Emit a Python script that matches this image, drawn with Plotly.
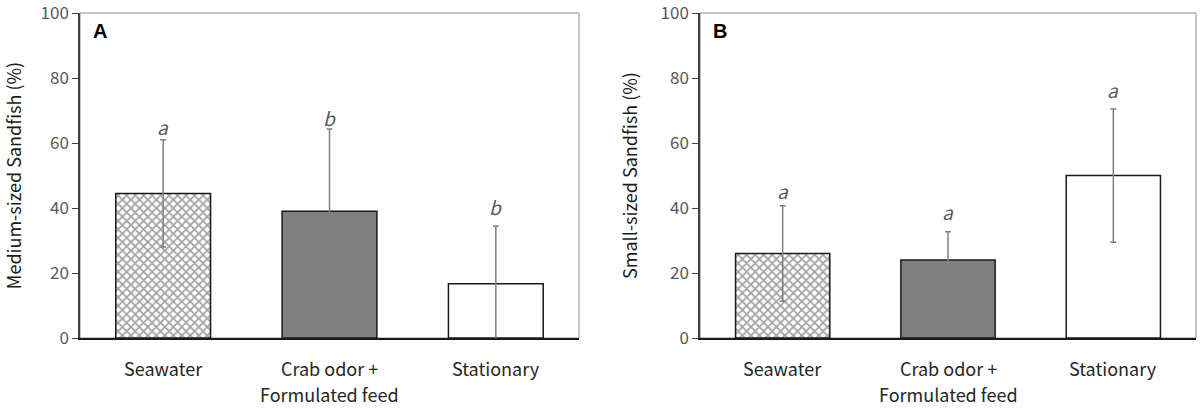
import plotly.graph_objects as go

categories = ["Seawater", "Crab odor + Formulated feed", "Stationary"]
category_lines = [["Seawater"], ["Crab odor +", "Formulated feed"], ["Stationary"]]
medium_values = [44.5, 39.0, 16.7]
medium_err = [16.5, 25.3, 17.7]
medium_letters = ["a", "b", "b"]
medium_letter_y = [65.0, 68.0, 40.5]
small_values = [26.0, 24.0, 50.0]
small_err = [14.7, 8.7, 20.5]
small_letters = ["a", "a", "a"]
small_letter_y = [45.5, 39.0, 76.5]
y_ticks = [0, 20, 40, 60, 80, 100]

FONT = "Noto Sans CJK KR"
fill_colors = ["white", "#808080", "white"]
patterns = ["x", "", ""]

fig = go.Figure()
for (vals, errs, xa, ya) in [(medium_values, medium_err, "x", "y"), (small_values, small_err, "x2", "y2")]:
    fig.add_trace(go.Bar(
        x=categories, y=vals, xaxis=xa, yaxis=ya, width=0.57,
        marker=dict(color=fill_colors, line=dict(color="#1a1a1a", width=1.5),
                    pattern=dict(shape=patterns, fgcolor="#1a1a1a", bgcolor="white", size=6, solidity=0.5)),
        error_y=dict(type="data", array=errs, visible=True, color="#808080", thickness=1.5, width=3),
        showlegend=False,
    ))

annotations = []
for xr, yr, letters, ly in [("x", "y", medium_letters, medium_letter_y), ("x2", "y2", small_letters, small_letter_y)]:
    for cat, lab, yy in zip(categories, letters, ly):
        annotations.append(dict(x=cat, y=yy, xref=xr, yref=yr, text="<i>" + lab + "</i>", showarrow=False,
                                font=dict(family=FONT, size=19, color="#595959")))
    for cat, lines in zip(categories, category_lines):
        for k, line in enumerate(lines):
            annotations.append(dict(x=cat, y=0, xref=xr, yref=yr + " domain", text=line, showarrow=False,
                                    yanchor="middle", yshift=-30 - 26 * k,
                                    font=dict(family=FONT, size=18, color="#262626")))
annotations.append(dict(x=0.022, y=0.985, xref="x domain", yref="y domain", text="<b>A</b>", showarrow=False,
                        xanchor="left", yanchor="top", font=dict(family="Liberation Sans", size=20, color="black")))
annotations.append(dict(x=0.022, y=0.985, xref="x2 domain", yref="y2 domain", text="<b>B</b>", showarrow=False,
                        xanchor="left", yanchor="top", font=dict(family="Liberation Sans", size=20, color="black")))

shapes = []
for xr, yr in [("x domain", "y domain"), ("x2 domain", "y2 domain")]:
    shapes.append(dict(type="rect", xref=xr, yref=yr, x0=0, x1=1, y0=0, y1=1,
                       line=dict(color="#8c8c8c", width=1), layer="below"))

yaxis_common = dict(range=[0, 100.001], tickvals=y_ticks, ticks="outside", ticklen=6, tickcolor="#404040",
                    showline=True, linecolor="#404040", linewidth=1.5, showgrid=False, zeroline=False,
                    automargin=False, ticklabeloverflow="allow",
                    tickfont=dict(family=FONT, size=17, color="#595959"))
xaxis_common = dict(showline=True, linecolor="#1a1a1a", linewidth=1.5, ticks="", showgrid=False,
                    automargin=False, showticklabels=False)

fig.update_layout(
    width=1200, height=409, margin=dict(l=0, r=0, t=13, b=71),
    plot_bgcolor="white", paper_bgcolor="white",
    xaxis=dict(domain=[80 / 1200, 579 / 1200], anchor="y", **xaxis_common),
    xaxis2=dict(domain=[700 / 1200, 1196 / 1200], anchor="y2", **xaxis_common),
    yaxis=dict(anchor="x", title=dict(text="Medium-sized Sandfish (%)", font=dict(family=FONT, size=18, color="#1a1a1a"), standoff=18), **yaxis_common),
    yaxis2=dict(anchor="x2", title=dict(text="Small-sized Sandfish (%)", font=dict(family=FONT, size=18, color="#1a1a1a"), standoff=18), **yaxis_common),
    annotations=annotations, shapes=shapes,
)
fig.write_html("out.html")
